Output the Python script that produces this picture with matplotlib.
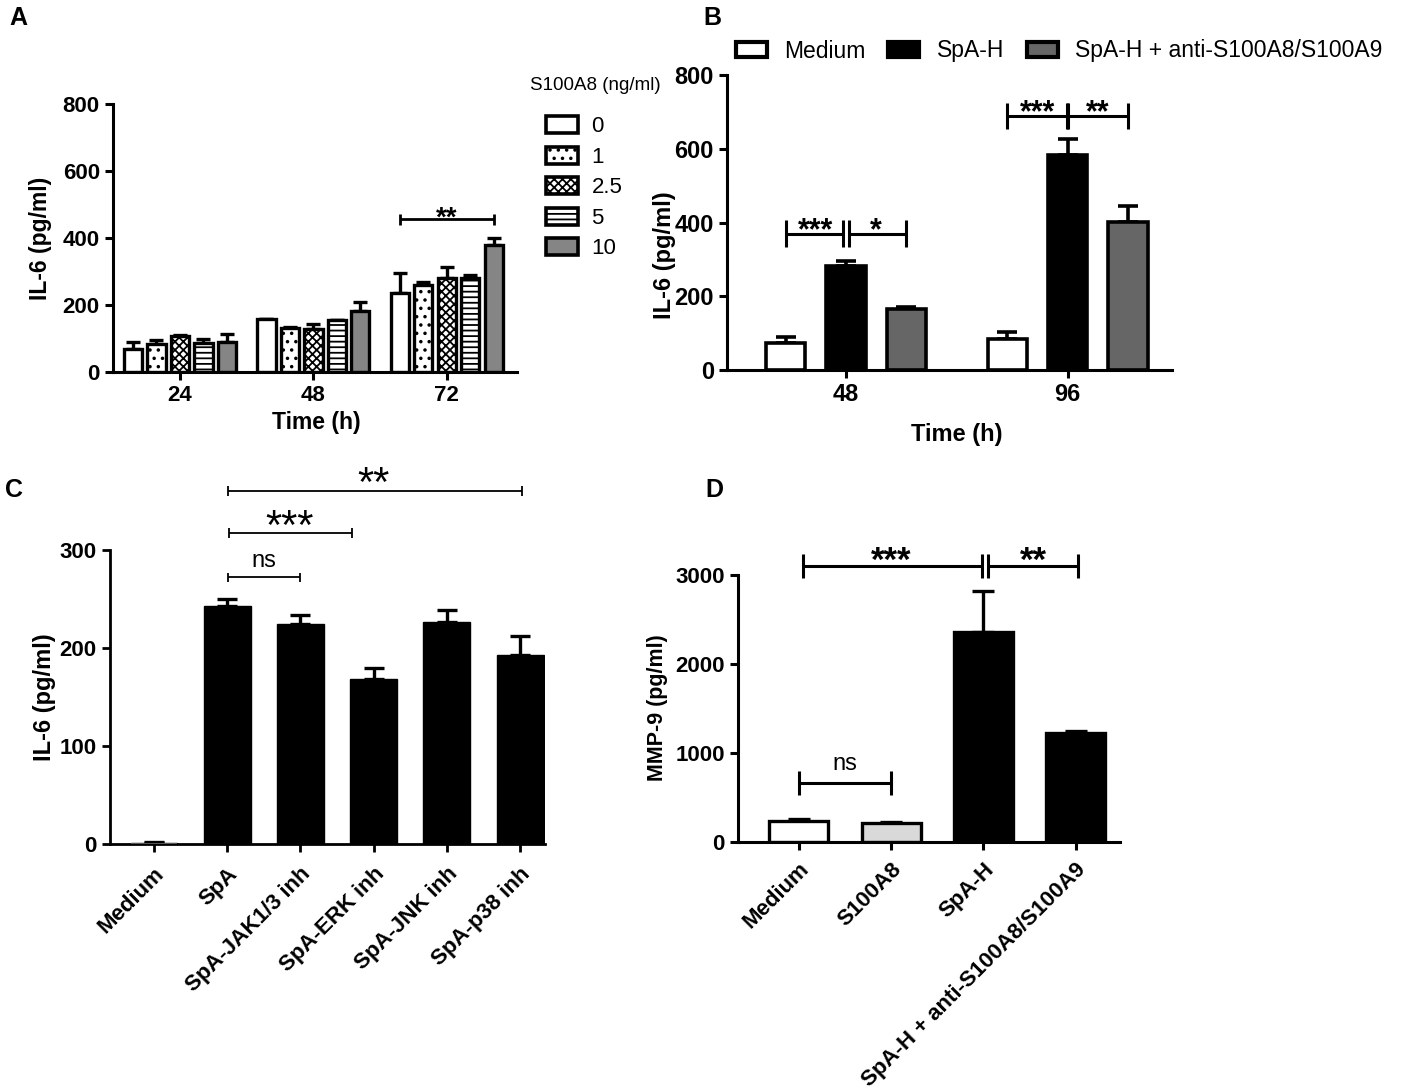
import numpy as np
import matplotlib
matplotlib.use('Agg')
import matplotlib.pyplot as plt
from matplotlib.patches import Patch

plt.rcParams['font.family'] = ['Liberation Sans', 'DejaVu Sans']
plt.rcParams['font.weight'] = 'bold'
plt.rcParams['hatch.linewidth'] = 1.3

# ---- data ----
# A: IL-6 by S100A8 dose over time
a_times = ['24', '48', '72']
a_doses = ['0', '1', '2.5', '5', '10']
a_mean_0 = [68, 159, 237]
a_mean_1 = [83, 130, 260]
a_mean_25 = [107, 127, 281]
a_mean_5 = [88, 154, 281]
a_mean_10 = [90, 182, 378]
a_err_0 = [22, 0, 58]
a_err_1 = [12, 3, 10]
a_err_25 = [3, 17, 32]
a_err_5 = [10, 2, 10]
a_err_10 = [22, 27, 21]

# B: IL-6 with SpA-H +/- blocking antibody
b_times = ['48', '96']
b_groups = ['Medium', 'SpA-H', 'SpA-H + anti-S100A8/S100A9']
b_medium = [72, 84]
b_spah = [281, 582]
b_anti = [166, 401]
b_medium_err = [18, 18]
b_spah_err = [15, 45]
b_anti_err = [6, 44]

# C: IL-6 with pathway inhibitors
c_labels = ['Medium', 'SpA', 'SpA-JAK1/3 inh', 'SpA-ERK inh', 'SpA-JNK inh', 'SpA-p38 inh']
c_vals = [1.5, 243, 224, 168, 227, 193]
c_err = [1, 7, 10, 12, 12, 19]

# D: MMP-9
d_labels = ['Medium', 'S100A8', 'SpA-H', 'SpA-H + anti-S100A8/S100A9']
d_vals = [231, 213, 2357, 1223]
d_err = [30, 17, 467, 26]

W, H = 1413, 1089
fig = plt.figure(figsize=(W / 100, H / 100), dpi=100)


def px_axes(l, t, r, b):
    return fig.add_axes([l / W, 1 - b / H, (r - l) / W, (b - t) / H])


def style(ax, fs, lw=2.0):
    for s in ['top', 'right']:
        ax.spines[s].set_visible(False)
    for s in ['left', 'bottom']:
        ax.spines[s].set_linewidth(lw)
    ax.tick_params(width=lw, length=6, labelsize=fs)


def bracket(ax, x0, x1, y, h, lw):
    kw = dict(color='black', lw=lw, clip_on=False, solid_capstyle='butt')
    ax.plot([x0, x1], [y, y], **kw)
    ax.plot([x0, x0], [y - h, y + h], **kw)
    ax.plot([x1, x1], [y - h, y + h], **kw)


def stars(ax, x, y, txt, above_px, fs, weight='bold'):
    # asterisk glyph centre sits ~0.58 em above the baseline
    off = above_px / 1.389 - 0.58 * fs
    ax.annotate(txt, (x, y), xytext=(0, off), textcoords='offset points',
                ha='center', va='baseline', fontsize=fs, fontweight=weight,
                annotation_clip=False)


def label(ax, x, y, txt, above_px, fs):
    ax.annotate(txt, (x, y), xytext=(0, above_px / 1.389), textcoords='offset points',
                ha='center', va='baseline', fontsize=fs, fontweight='normal',
                annotation_clip=False)


def bars(ax, x, h, e, w, fc, hatch=None, lw=2.4, ecap=7):
    ax.bar(x, h, width=w, color=fc, edgecolor='black', linewidth=lw, hatch=hatch, zorder=2)
    ax.errorbar(x, h, yerr=[np.zeros(len(h)), e], fmt='none', ecolor='black',
                elinewidth=lw, capsize=ecap, capthick=lw, zorder=1)


# ---- panel A ----
axA = px_axes(113, 104, 517, 372)
gap_a = 5.68
a_centers = np.arange(3) * gap_a
a_means = [a_mean_0, a_mean_1, a_mean_25, a_mean_5, a_mean_10]
a_errs = [a_err_0, a_err_1, a_err_25, a_err_5, a_err_10]
a_fc = ['white', 'white', 'white', 'white', '#858585']
a_hatch = [None, '..', 'xxxx', '---', None]
a_handles = []
for i in range(5):
    bars(axA, a_centers + i - 2, a_means[i], a_errs[i], 0.78, a_fc[i], a_hatch[i], lw=2.4, ecap=5)
    a_handles.append(Patch(facecolor=a_fc[i], edgecolor='black', linewidth=2.6, hatch=a_hatch[i]))
axA.set_xlim(-2.85, 14.35)
axA.set_ylim(0, 800)
axA.set_yticks([0, 200, 400, 600, 800])
axA.set_xticks(a_centers)
axA.set_xticklabels(a_times)
style(axA, 16, lw=2.2)
bracket(axA, a_centers[2] - 2, a_centers[2] + 2, 456, 16, 2.0)
stars(axA, a_centers[2], 456, '**', 10, 20)
fig.text(40 / W, 1 - 238 / H, 'IL-6 (pg/ml)', rotation=90, ha='center', va='center', fontsize=16.5)
fig.text(316 / W, 1 - 423 / H, 'Time (h)', ha='center', va='center', fontsize=16.5)
leg = axA.legend(a_handles, a_doses, loc='upper left',
                 bbox_to_anchor=(526 / W, 1 - 96 / H), bbox_transform=fig.transFigure,
                 frameon=False, prop={'size': 16, 'weight': 'normal'},
                 handlelength=1.45, handleheight=0.8, handletextpad=0.6, labelspacing=0.42)
fig.text(530 / W, 1 - 86 / H, 'S100A8 (ng/ml)', ha='left', va='center',
         fontsize=13.5, fontweight='normal')

# ---- panel B ----
axB = px_axes(727, 75, 1172, 370)
gap_b = 3.67
b_centers = np.arange(2) * gap_b
bars(axB, b_centers - 1, b_medium, b_medium_err, 0.65, 'white', lw=2.6, ecap=7)
bars(axB, b_centers, b_spah, b_spah_err, 0.65, 'black', lw=2.6, ecap=7)
bars(axB, b_centers + 1, b_anti, b_anti_err, 0.65, '#666666', lw=2.6, ecap=7)
axB.set_xlim(-1.97, 5.4)
axB.set_ylim(0, 800)
axB.set_yticks([0, 200, 400, 600, 800])
axB.set_xticks(b_centers)
axB.set_xticklabels(b_times)
style(axB, 17, lw=2.2)
for c, y, s1, s2, dx in [(b_centers[0], 370, '***', '*', 0.05), (b_centers[1], 689, '***', '**', 0.01)]:
    bracket(axB, c - 1, c - dx, y, 36, 2.2)
    bracket(axB, c + dx, c + 1, y, 36, 2.2)
    stars(axB, c - 0.5, y, s1, 12, 22)
    stars(axB, c + 0.5, y, s2, 12, 22)
fig.text(665 / W, 1 - 255 / H, 'IL-6 (pg/ml)', rotation=90, ha='center', va='center', fontsize=17)
fig.text(957 / W, 1 - 435 / H, 'Time (h)', ha='center', va='center', fontsize=17)
b_handles = [Patch(facecolor=fc, edgecolor='black', linewidth=3) for fc in ['white', 'black', '#666666']]
axB.legend(b_handles, b_groups, loc='center left', ncol=3,
           bbox_to_anchor=(736 / W, 1 - 51 / H), bbox_transform=fig.transFigure,
           frameon=False, prop={'size': 16.5, 'weight': 'normal'},
           handlelength=1.35, handleheight=0.6, handletextpad=0.75, columnspacing=1.0,
           borderpad=0, borderaxespad=0)

# ---- panel C ----
axC = px_axes(110, 550, 545, 844)
xc = np.arange(len(c_labels))
axC.bar(xc, c_vals, width=0.64, color='black', edgecolor='black', linewidth=1, zorder=2)
axC.bar(xc[:1], c_vals[:1], width=0.64, color='#555555', zorder=3)
axC.errorbar(xc, c_vals, yerr=[np.zeros(len(xc)), c_err], fmt='none', ecolor='black',
             elinewidth=2.4, capsize=7, capthick=2.4, zorder=1)
axC.set_xlim(-0.6, 5.34)
axC.set_ylim(0, 300)
axC.set_yticks([0, 100, 200, 300])
axC.set_xticks(xc)
axC.set_xticklabels(c_labels, rotation=45, ha='right', rotation_mode='anchor', fontsize=17.5)
style(axC, 16)
axC.tick_params(axis='x', pad=8)
bracket(axC, 1.01, 2.0, 272, 5, 1.3)
label(axC, 1.5, 272, 'ns', 10, 17)
bracket(axC, 1.03, 2.71, 317, 5, 1.3)
stars(axC, 1.85, 317, '***', 19, 30, 'normal')
bracket(axC, 1.01, 5.02, 360, 5, 1.3)
stars(axC, 3.0, 360, '**', 19, 30, 'normal')
fig.text(45 / W, 1 - 697 / H, 'IL-6 (pg/ml)', rotation=90, ha='center', va='center', fontsize=17)

# ---- panel D ----
axD = px_axes(738, 575, 1120, 842)
xd = np.arange(len(d_labels))
bars(axD, xd, d_vals, d_err, 0.64, ['white', '#d9d9d9', 'black', 'black'], lw=2.4, ecap=8)
axD.set_xlim(-0.66, 3.48)
axD.set_ylim(0, 3000)
axD.set_yticks([0, 1000, 2000, 3000])
axD.set_xticks(xd)
axD.set_xticklabels(d_labels, rotation=45, ha='right', rotation_mode='anchor', fontsize=16)
style(axD, 16, lw=2.2)
axD.tick_params(axis='x', pad=6)
bracket(axD, 0.04, 1.98, 3100, 135, 2.2)
bracket(axD, 2.05, 3.03, 3100, 135, 2.2)
stars(axD, 1.0, 3100, '***', 15, 25)
stars(axD, 2.54, 3100, '**', 15, 25)
bracket(axD, 0.0, 1.0, 662, 135, 2.2)
label(axD, 0.5, 662, 'ns', 13, 17)
fig.text(657 / W, 1 - 708 / H, 'MMP-9 (pg/ml)', rotation=90, ha='center', va='center', fontsize=15.5)

# ---- panel letters ----
for t, x, y in [('A', 18, 18), ('B', 712, 18), ('C', 14, 490), ('D', 714, 490)]:
    fig.text(x / W, 1 - y / H, t, ha='center', va='center', fontsize=18)

fig.savefig('out.png', dpi=100)
